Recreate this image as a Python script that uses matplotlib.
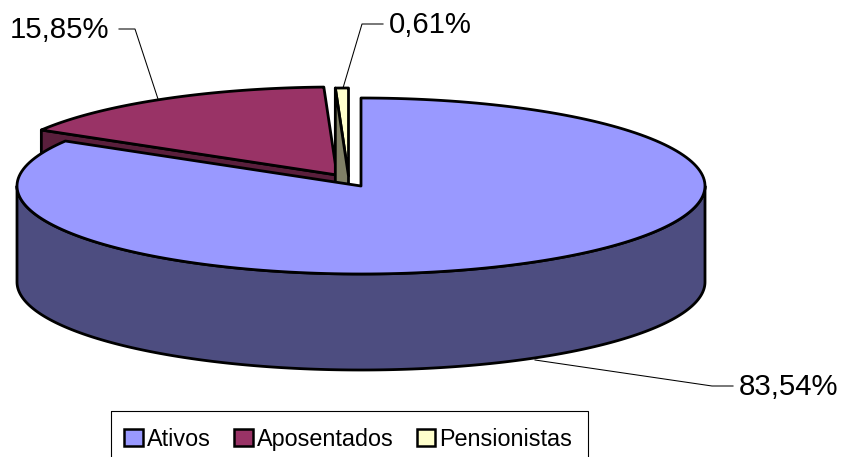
import numpy as np
import matplotlib
matplotlib.use('Agg')
import matplotlib.pyplot as plt
from matplotlib.patches import Polygon, Patch, Rectangle

plt.rcParams['font.family'] = ['Liberation Sans', 'DejaVu Sans']

labels = ['Ativos', 'Aposentados', 'Pensionistas']
values = [83.54, 15.85, 0.61]
value_text = ['83,54%', '15,85%', '0,61%']
top_colors = ['#9999FF', '#993366', '#FFFFCC']
side_colors = ['#4D4D80', '#5A1F3C', '#808066']

# pie shape in pixels
rx, ry, depth = 344, 88, 96
apex = [(361, 186), (337, 175), (348.5, 176)]

cum = np.concatenate([[0], np.cumsum(values)]) * 3.6


def rim(i, a):
    t = np.radians(a)
    return np.column_stack([apex[i][0] + rx * np.sin(t), apex[i][1] - ry * np.cos(t)])


def top_face(i):
    a = np.linspace(cum[i], cum[i + 1], 200)
    return np.vstack([[apex[i]], rim(i, a)])


def cut_face(i, a):
    p = np.array(apex[i], dtype=float)
    q = rim(i, [a])[0]
    return np.array([p, q, q + [0, depth], p + [0, depth]])


def outer_side(i, a0, a1):
    a = np.linspace(a0, a1, 200)
    r = rim(i, a)
    return np.vstack([r, (r + [0, depth])[::-1]])


fig = plt.figure(figsize=(8.42, 4.57), dpi=100)
ax = fig.add_axes([0, 0, 1, 1])
ax.set_xlim(0, 842)
ax.set_ylim(457, 0)
ax.axis('off')

lw = 2
# back slices first, the big one goes over them
ax.add_patch(Polygon(cut_face(1, cum[1]), fc=side_colors[1], ec='k', lw=lw, joinstyle='round'))
ax.add_patch(Polygon(top_face(1), fc=top_colors[1], ec='k', lw=lw, joinstyle='round'))
ax.add_patch(Polygon(top_face(2), fc=top_colors[2], ec='k', lw=lw, joinstyle='round'))
ax.add_patch(Polygon(cut_face(2, cum[2]), fc=side_colors[2], ec='k', lw=lw, joinstyle='round'))
ax.add_patch(Polygon(outer_side(0, 90, 270), fc=side_colors[0], ec='k', lw=lw, joinstyle='round'))
ax.add_patch(Polygon(top_face(0), fc=top_colors[0], ec='k', lw=lw, joinstyle='round'))

# leader lines
ax.plot([535, 712, 733], [360, 386, 386], color='k', lw=0.75)
ax.plot([119, 135, 158], [29, 29, 99], color='k', lw=0.75)
ax.plot([343, 362, 383], [88, 24, 24], color='k', lw=0.75)

ax.text(739, 387, value_text[0], fontsize=21.2, ha='left', va='center')
ax.text(10, 30, value_text[1], fontsize=21.2, ha='left', va='center')
ax.text(389, 25, value_text[2], fontsize=21.2, ha='left', va='center')

# legend box runs off the bottom of the image
ax.add_patch(Rectangle((111, 411), 477, 60, fill=False, ec='k', lw=0.8, clip_on=True))
handles = [Patch(fc=c, ec='k', lw=1.8) for c in top_colors]
leg = ax.legend(handles, labels, ncol=3, loc='upper left', bbox_to_anchor=(124 / 842, 1 - 428 / 457),
                fontsize=16.8, frameon=False,
                handlelength=0.8, handleheight=0.75, handletextpad=0.17, columnspacing=1.0,
                borderpad=0, borderaxespad=0)

fig.savefig('out.png', dpi=100)
